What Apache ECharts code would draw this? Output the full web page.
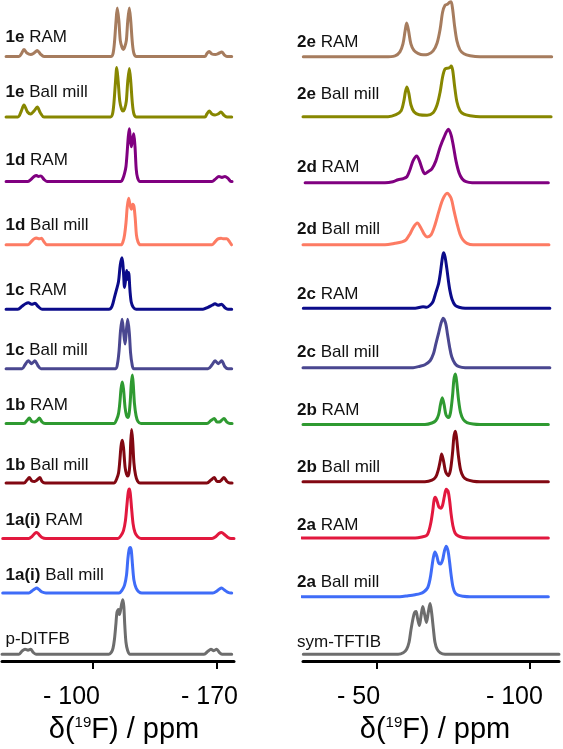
<!DOCTYPE html>
<html><head><meta charset="utf-8">
<script src="https://cdn.jsdelivr.net/npm/echarts@6/dist/echarts.min.js"></script>
<style>html,body{margin:0;padding:0;background:#fff}#c{width:563px;height:749px}</style>
</head><body><div id="c"></div>
<script>
// ---------- DATA: [ppm, intensity] ----------
const L_1eRAM = [[-50.9,0],[-58.2,0],[-59.6,3],[-61.0,7],[-62.7,3.5],[-64.8,2],[-66.7,3.5],[-68.5,6],[-70.3,2.5],[-72.3,0],[-110.1,0],[-111.3,3],[-112.1,14],[-113.0,36],[-113.7,49],[-114.6,36],[-115.4,16],[-116.4,9],[-117.1,7],[-117.8,9],[-118.8,16],[-119.6,36],[-120.5,49],[-121.3,36],[-122.2,14],[-123.1,3],[-124.5,0],[-163.2,0],[-164.3,3],[-165.6,5],[-167.1,2.5],[-169.1,2],[-170.8,3],[-172.7,4.5],[-174.2,1.5],[-175.6,0],[-178.3,0]];
const L_1eBM = [[-50.9,0],[-57.6,0],[-59.3,5],[-61.0,12],[-63.0,5],[-64.8,3],[-66.7,6],[-68.5,10],[-70.3,4],[-72.3,0],[-109.9,0],[-111.0,3],[-111.8,14],[-112.7,36],[-113.4,50],[-114.2,36],[-115.1,16],[-116.1,8],[-116.9,6],[-117.8,8],[-118.8,16],[-119.6,36],[-120.5,49],[-121.3,36],[-122.2,14],[-123.1,3],[-124.5,0],[-163.2,0],[-164.3,3],[-165.6,6],[-167.1,3],[-168.9,2],[-170.6,3],[-172.3,5],[-174.0,1.5],[-175.6,0],[-178.3,0]];
const L_1dRAM = [[-50.9,0],[-63.3,0],[-65.0,2],[-66.7,5],[-68.1,6],[-69.2,5],[-70.6,5.5],[-72.3,2],[-74.0,0],[-115.8,0],[-116.9,3],[-117.8,8],[-118.6,15],[-119.3,30],[-119.9,45],[-120.5,53],[-121.0,44],[-121.6,35],[-122.3,42],[-123.0,48],[-123.7,35],[-124.4,12],[-125.1,4],[-126.5,0],[-167.2,0],[-168.9,2],[-171.1,5],[-172.8,4],[-174.5,5],[-176.2,3],[-177.9,0],[-178.5,0]];
const L_1dBM = [[-50.9,0],[-63.3,0],[-65.0,3],[-66.7,6],[-68.1,7],[-69.5,6],[-70.9,6.5],[-72.3,3],[-74.0,0],[-115.8,0],[-116.9,3],[-117.8,10],[-118.6,22],[-119.3,38],[-120.1,47],[-120.9,40],[-121.6,36],[-122.4,41],[-123.1,39],[-123.9,25],[-124.5,10],[-125.4,3],[-126.8,0],[-167.2,0],[-168.9,3],[-170.6,6],[-172.3,6.5],[-173.9,6],[-175.6,6],[-177.1,3],[-178.2,0]];
const L_1cRAM = [[-50.9,0],[-57.6,0],[-59.9,3],[-61.9,5.5],[-63.5,6.5],[-65.3,5],[-67.2,6],[-68.9,3],[-71.2,0],[-109.0,0],[-110.7,3],[-112.1,12],[-113.3,20],[-114.4,28],[-115.4,45],[-116.4,52],[-117.1,40],[-117.8,22],[-118.4,30],[-119.0,39],[-119.6,30],[-120.1,37],[-120.9,18],[-121.6,7],[-122.7,2],[-124.3,0],[-162.1,0],[-164.9,2],[-167.2,4],[-168.9,5.5],[-170.6,4],[-172.6,5],[-174.5,1.5],[-176.2,0],[-178.3,0]];
const L_1cBM = [[-50.9,0],[-59.9,0],[-61.6,4],[-63.5,8],[-65.3,5],[-67.2,8],[-68.9,3],[-70.6,0],[-112.7,0],[-113.8,5],[-114.7,18],[-115.5,38],[-116.4,50],[-117.2,38],[-118.1,25],[-118.8,38],[-119.6,50],[-120.5,36],[-121.2,16],[-122.0,5],[-123.1,0],[-164.9,0],[-167.2,4],[-168.9,8],[-170.7,5],[-172.6,8],[-174.5,2],[-176.2,0],[-178.3,0]];
const L_1bRAM = [[-50.9,0],[-61.0,0],[-62.7,3],[-64.0,5.5],[-65.5,2],[-67.0,1.5],[-68.4,3],[-69.7,5.5],[-71.2,1.5],[-72.9,0],[-111.8,0],[-113.3,4],[-114.4,10],[-115.2,22],[-115.8,35],[-116.5,42],[-117.2,35],[-118.1,16],[-118.9,8],[-119.6,6],[-120.3,9],[-121.0,22],[-121.6,40],[-122.2,49],[-122.7,40],[-123.4,20],[-124.3,8],[-125.4,2],[-127.1,0],[-164.3,0],[-166.6,3],[-168.5,5],[-170.0,1.5],[-171.4,1.5],[-172.5,3],[-173.9,5],[-175.6,1.5],[-177.3,0],[-178.5,0]];
const L_1bBM = [[-50.9,0],[-61.0,0],[-62.7,3],[-64.0,5.5],[-65.5,2],[-67.0,1.5],[-68.4,3],[-70.0,5.5],[-71.2,1.5],[-72.9,0],[-111.8,0],[-113.3,4],[-114.4,10],[-115.2,24],[-115.8,37],[-116.5,43],[-117.2,36],[-118.1,16],[-118.9,9],[-119.6,7],[-120.3,10],[-120.9,22],[-121.3,42],[-121.8,54],[-122.4,42],[-123.1,20],[-124.0,8],[-125.1,2],[-126.5,0],[-164.3,0],[-166.6,3],[-168.5,5.5],[-170.0,1.5],[-171.4,1.5],[-172.5,3],[-173.9,5.5],[-175.6,1.5],[-177.3,0],[-178.5,0]];
const L_1aRAM = [[-49.0,0],[-63.8,0],[-65.5,2],[-67.0,5],[-68.2,6],[-69.5,4],[-71.2,1],[-73.4,0],[-114.1,0],[-115.8,3],[-117.2,8],[-118.3,18],[-119.2,35],[-119.9,47],[-120.5,50],[-121.0,46],[-121.7,32],[-122.6,15],[-123.7,6],[-125.1,2],[-127.1,0],[-167.2,0],[-169.4,2],[-171.1,5],[-172.6,6],[-174.2,4],[-176.2,1],[-177.9,0],[-179.6,0]];
const L_1aBM = [[-49.0,0],[-63.8,0],[-65.5,2],[-67.0,4],[-68.2,5],[-69.5,3.5],[-71.2,1],[-73.4,0],[-114.7,0],[-116.4,3],[-117.8,8],[-118.9,18],[-119.7,35],[-120.4,44],[-121.0,46],[-121.6,43],[-122.3,28],[-123.1,13],[-124.3,5],[-125.7,1.5],[-127.6,0],[-167.7,0],[-170.0,2],[-171.4,4],[-172.6,5],[-174.2,3],[-175.9,1],[-177.9,0],[-178.3,0]];
const L_pDITFB = [[-48.6,0],[-58.2,0],[-59.9,3],[-61.6,5],[-63.3,4],[-64.8,5],[-66.1,2],[-67.8,0],[-109.0,0],[-110.4,2],[-111.3,6],[-112.1,15],[-112.9,30],[-113.5,42],[-114.3,45],[-114.9,40],[-115.5,44],[-116.1,50],[-116.8,55],[-117.4,48],[-117.9,30],[-118.6,12],[-119.5,4],[-120.9,0],[-162.7,0],[-164.9,3],[-166.6,5],[-168.2,3.5],[-169.8,5],[-171.4,1.5],[-172.8,0],[-178.3,0]];

const R_2eRAM = [[-25.8,0],[-52.6,0],[-55.9,1],[-57.5,5],[-58.5,13],[-59.2,26],[-59.7,34],[-60.3,27],[-61.1,13],[-62.1,6.5],[-63.4,3.5],[-65.1,2],[-66.7,2.5],[-68.4,6],[-69.7,14],[-70.7,28],[-71.5,45],[-72.3,52],[-73.1,53],[-73.8,55],[-74.3,55.5],[-74.8,48],[-75.4,32],[-76.2,16],[-77.2,7],[-78.5,3],[-80.5,1],[-83.8,0],[-107.3,0]];
const R_2eBM = [[-25.7,0],[-53.6,0],[-56.2,2],[-57.9,6],[-58.8,16],[-59.3,25],[-59.8,30],[-60.4,24],[-61.1,12],[-62.1,5],[-63.8,2],[-66.4,1.5],[-68.4,4],[-69.7,12],[-70.7,25],[-71.5,40],[-72.3,48],[-73.3,49],[-73.9,49.5],[-74.3,51],[-74.8,47],[-75.4,32],[-76.2,15],[-77.2,6],[-78.5,2.5],[-80.5,1],[-83.8,0],[-107.1,0]];
const R_2dRAM = [[-26.4,0],[-52.6,0],[-55.2,1],[-56.9,3],[-58.5,4],[-59.8,6],[-60.8,13],[-61.8,22],[-63.0,27],[-63.9,22],[-64.9,13],[-65.7,9],[-66.7,11],[-68.0,14],[-69.3,22],[-70.7,36],[-72.0,46],[-73.4,54],[-74.3,48],[-75.1,36],[-75.9,22],[-76.9,10],[-77.9,4],[-79.2,1],[-81.2,0],[-106.2,0]];
const R_2dBM = [[-25.7,0],[-52.6,0],[-55.9,1.5],[-58.2,3],[-59.5,5],[-60.8,11],[-62.0,18],[-63.2,22],[-64.4,17],[-65.4,11],[-66.4,8],[-67.7,10],[-69.0,20],[-70.3,34],[-71.6,46],[-73.0,52],[-74.3,47],[-75.2,35],[-76.2,22],[-77.2,11],[-78.2,5],[-79.5,1.5],[-81.5,0],[-106.4,0]];
const R_2cRAM = [[-25.8,0],[-62.5,0],[-65.1,1.5],[-66.3,1],[-67.4,3],[-68.4,7],[-69.3,16],[-70.2,25],[-70.8,36],[-71.3,48],[-71.8,56],[-72.3,52],[-72.9,40],[-73.4,28],[-73.9,18],[-74.6,9],[-75.6,3],[-76.9,1],[-78.9,0],[-106.7,0]];
const R_2cBM = [[-25.7,0],[-61.8,0],[-64.1,1.5],[-65.7,3],[-67.4,7],[-68.5,14],[-69.3,24],[-70.2,35],[-71.0,45],[-71.7,50],[-72.5,45],[-73.1,34],[-73.8,21],[-74.5,11],[-75.6,4],[-76.9,1],[-78.9,0],[-106.7,0]];
const R_2bRAM = [[-25.7,0],[-65.7,0],[-68.0,1.5],[-69.3,4],[-70.2,10],[-70.8,20],[-71.4,27],[-72.0,20],[-72.6,10],[-73.4,7],[-74.1,12],[-74.8,30],[-75.2,45],[-75.7,51],[-76.1,44],[-76.7,26],[-77.4,12],[-78.3,5],[-79.5,2],[-81.5,0.5],[-83.8,0],[-106.2,0]];
const R_2bBM = [[-25.7,0],[-65.7,0],[-68.0,1.5],[-69.3,5],[-70.1,12],[-70.8,22],[-71.2,28],[-71.8,21],[-72.5,10],[-73.4,6],[-74.1,12],[-74.8,30],[-75.2,45],[-75.7,51],[-76.1,44],[-76.7,26],[-77.4,12],[-78.3,5],[-79.5,2],[-81.5,0.5],[-83.8,0],[-106.2,0]];
const R_2aRAM = [[-25.3,0],[-62.5,0],[-64.7,1],[-66.3,2.5],[-67.0,7],[-67.7,16],[-68.3,28],[-68.7,38],[-69.1,41],[-69.7,37],[-70.3,31],[-70.9,30],[-71.5,33],[-72.1,42],[-72.7,49],[-73.3,47],[-73.8,38],[-74.3,24],[-74.9,12],[-75.6,5],[-76.6,2],[-78.2,0.5],[-80.5,0],[-106.2,0]];
const R_2aBM = [[-25.3,0],[-57.5,0],[-60.2,1],[-62.5,2],[-64.1,3],[-65.4,5],[-66.6,9],[-67.4,18],[-68.0,30],[-68.5,40],[-69.0,45],[-69.6,41],[-70.2,34],[-70.8,33],[-71.5,37],[-72.1,46],[-72.7,51],[-73.3,46],[-73.8,35],[-74.3,22],[-74.9,10],[-75.6,4],[-76.6,1.5],[-78.2,0.5],[-80.5,0],[-106.2,0]];
const R_symTFTIB = [[-25.8,0],[-56.9,0],[-58.6,1.5],[-59.7,5],[-60.5,12],[-61.1,24],[-61.8,36],[-62.3,42],[-62.8,43],[-63.3,36],[-63.9,29],[-64.4,38],[-65.0,48],[-65.6,40],[-66.2,32],[-66.8,42],[-67.4,51],[-67.9,42],[-68.5,25],[-69.0,12],[-69.7,5],[-70.7,1.5],[-72.3,0],[-109.7,0]];

const leftSpectra  = [L_1eRAM, L_1eBM, L_1dRAM, L_1dBM, L_1cRAM, L_1cBM, L_1bRAM, L_1bBM, L_1aRAM, L_1aBM, L_pDITFB];
const rightSpectra = [R_2eRAM, R_2eBM, R_2dRAM, R_2dBM, R_2cRAM, R_2cBM, R_2bRAM, R_2bBM, R_2aRAM, R_2aBM, R_symTFTIB];
const leftBold  = ['1e','1e','1d','1d','1c','1c','1b','1b','1a(i)','1a(i)',''];
const leftRest  = [' RAM',' Ball mill',' RAM',' Ball mill',' RAM',' Ball mill',' RAM',' Ball mill',' RAM',' Ball mill','p-DITFB'];
const rightBold = ['2e','2e','2d','2d','2c','2c','2b','2b','2a','2a',''];
const rightRest = [' RAM',' Ball mill',' RAM',' Ball mill',' RAM',' Ball mill',' RAM',' Ball mill',' RAM',' Ball mill','sym-TFTIB'];
const leftTickValues = [-100, -170];
const leftTickLabels = ['- 100', '- 170'];
const rightTickValues = [-50, -100];
const rightTickLabels = ['- 50', '- 100'];
const axisTitle = 'δ(19F) / ppm';

// ---------- STYLE / LAYOUT ----------
const colors = ['#a67c5e','#878700','#800080','#fd7b63','#0b0b8a','#4a4790','#2f9a31','#820812','#e2183e','#3f6cf8','#6d6d6d'];
const AXIS_Y = 667;
const leftBaseY  = [57, 118, 183, 247, 312, 372, 427.3, 487.3, 543.3, 598.3, 660];
const rightBaseY = [57.3, 117.7, 184.3, 247, 311, 371, 428.3, 486, 542.7, 602, 660];
const leftLabelY  = [37.5, 92.8, 160.8, 225.8, 290.5, 350.5, 405.8, 465.8, 520.5, 575.5, 639];
const rightLabelY = [42.5, 94, 167.5, 229, 294, 352, 410.8, 467.5, 525.8, 582.5, 642.5];
const FF = '"Liberation Sans", Arial, Helvetica, sans-serif';

const chart = echarts.init(document.getElementById('c'), null, {renderer: 'canvas'});

function mkSeries(data, baseY, color, gi) {
  const off = AXIS_Y - baseY;
  return {
    type: 'line', xAxisIndex: gi, yAxisIndex: gi,
    data: data.map(p => [p[0], p[1] + off]),
    showSymbol: false, symbol: 'none', smooth: 0.3, silent: true,
    lineStyle: {color: color, width: 3, join: 'round', cap: 'round'}
  };
}
const series = [];
leftSpectra.forEach((d, i) => series.push(mkSeries(d, leftBaseY[i], colors[i], 0)));
rightSpectra.forEach((d, i) => series.push(mkSeries(d, rightBaseY[i], colors[i], 1)));

function mkXAxis(gi, min, max, tv, tl, shifts, namePad) {
  const rich = {};
  tv.forEach((v, i) => { rich['t' + i] = {fontSize: 25, fontFamily: FF, color: '#000', padding: [0, shifts[i], 0, 0]}; });
  rich.m0 = {fontSize: 29, fontFamily: FF, color: '#000', padding: [0, 0, 0, namePad]};
  rich.m = {fontSize: 29, fontFamily: FF, color: '#000'};
  rich.s = {fontSize: 15, fontFamily: FF, color: '#000', verticalAlign: 'top'};
  const parts = axisTitle.match(/^(.*\()(\d+)(.*)$/);
  return {
    type: 'value', gridIndex: gi, inverse: true, min: min, max: max,
    axisLine: {show: true, onZero: false, lineStyle: {color: '#000', width: 3}},
    axisTick: {show: true, customValues: tv, length: 8, lineStyle: {color: '#000', width: 2}},
    axisLabel: {show: true, customValues: tv, margin: 24, rich: rich,
      formatter: v => { const i = tv.indexOf(v); return i < 0 ? '' : '{t' + i + '|' + tl[i] + '}'; }},
    splitLine: {show: false},
    name: '{m0|' + parts[1] + '}{s|' + parts[2] + '}{m|' + parts[3] + '}',
    nameLocation: 'middle', nameGap: 48,
    nameTextStyle: {rich: rich, fontSize: 29, fontFamily: FF, color: '#000'}
  };
}

const graphics = [];
function addLabels(bold, rest, ys, x) {
  bold.forEach((b, i) => {
    graphics.push({
      type: 'text', x: x, y: ys[i], silent: true,
      style: {
        text: (b ? '{b|' + b + '}' : '') + '{n|' + rest[i] + '}',
        rich: {
          b: {fontWeight: 'bold', fontSize: 17, fontFamily: FF, fill: '#111'},
          n: {fontSize: 17, fontFamily: FF, fill: '#111'}
        },
        fontSize: 17, fontFamily: FF, fill: '#111', verticalAlign: 'middle', align: 'left'
      }
    });
  });
}
addLabels(leftBold, leftRest, leftLabelY, 5.5);
addLabels(rightBold, rightRest, rightLabelY, 297);

chart.setOption({
  animation: false,
  backgroundColor: '#fff',
  grid: [
    {left: 2, width: 232, top: 0, height: AXIS_Y},
    {left: 303, width: 256, top: 0, height: AXIS_Y}
  ],
  xAxis: [
    mkXAxis(0, -179.6, -48.6, leftTickValues, leftTickLabels, [43, 15], 12),
    mkXAxis(1, -109.7, -25.7, rightTickValues, rightTickLabels, [37, 30], 8)
  ],
  yAxis: [
    {type: 'value', gridIndex: 0, min: 0, max: AXIS_Y, show: false},
    {type: 'value', gridIndex: 1, min: 0, max: AXIS_Y, show: false}
  ],
  series: series,
  graphic: graphics
});
</script></body></html>
